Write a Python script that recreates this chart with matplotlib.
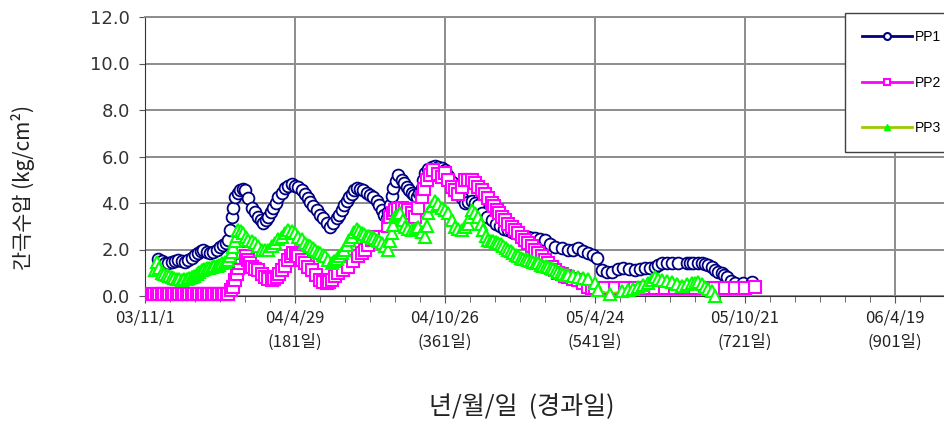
import matplotlib.pyplot as plt
from matplotlib.lines import Line2D
from matplotlib.ticker import MultipleLocator

plt.rcParams['font.family'] = ['Liberation Sans', 'Noto Sans CJK KR', 'DejaVu Sans']

# elapsed days since 03/11/1 and pore pressure (kg/cm2)
pp1_days = [16, 20, 24, 28, 32, 36, 40, 44, 48, 52, 56, 60, 64, 67, 70, 74, 78, 82,
            86, 90, 94, 97, 100, 102, 104, 106, 108, 111, 114, 117, 120, 124, 128,
            132, 136, 139, 142, 145, 148, 151, 154, 157, 160, 164, 168, 172, 176,
            180, 184, 188, 192, 195, 198, 202, 206, 210, 214, 218, 222, 226, 230,
            233, 236, 239, 242, 245, 248, 251, 254, 258, 262, 266, 270, 274, 278,
            281, 284, 287, 290, 292, 294, 296, 298, 301, 304, 308, 311, 314, 317,
            320, 323, 326, 329, 332, 334, 336, 340, 344, 348, 352, 356, 360, 364,
            368, 372, 376, 380, 384, 388, 392, 396, 400, 404, 410, 416, 421, 426,
            431, 436, 440, 444, 448, 452, 456, 460, 464, 468, 474, 480, 486, 492,
            500, 508, 514, 520, 526, 532, 537, 542, 548, 554, 560, 567, 574, 581,
            588, 594, 600, 606, 612, 616, 620, 626, 632, 640, 650, 654, 658, 663,
            668, 672, 676, 680, 684, 688, 692, 695, 698, 703, 708, 718, 728]
pp1_vals = [1.6, 1.5, 1.4, 1.4, 1.45, 1.5, 1.55, 1.5, 1.45, 1.55, 1.63, 1.75, 1.85,
            1.95, 2.0, 1.9, 1.85, 1.9, 2.0, 2.1, 2.2, 2.3, 2.4, 2.85, 3.4, 3.8, 4.25,
            4.45, 4.55, 4.6, 4.55, 4.2, 3.8, 3.6, 3.4, 3.25, 3.15, 3.25, 3.4, 3.6,
            3.8, 4.0, 4.25, 4.45, 4.65, 4.75, 4.8, 4.75, 4.7, 4.55, 4.4, 4.2, 4.05,
            3.85, 3.7, 3.5, 3.35, 3.15, 2.95, 3.15, 3.35, 3.5, 3.7, 3.9, 4.1, 4.25,
            4.4, 4.55, 4.65, 4.6, 4.55, 4.45, 4.35, 4.25, 4.1, 3.9, 3.7, 3.5, 3.35,
            3.6, 3.9, 4.3, 4.65, 4.95, 5.2, 5.0, 4.85, 4.7, 4.55, 4.45, 4.35, 4.25,
            4.45, 4.65, 5.0, 5.3, 5.45, 5.55, 5.6, 5.55, 5.5, 5.4, 5.15, 4.9, 4.65,
            4.4, 4.2, 4.0, 4.05, 4.1, 4.0, 3.9, 3.55, 3.4, 3.25, 3.1, 3.0, 2.9, 2.85,
            2.75, 2.7, 2.65, 2.6, 2.55, 2.55, 2.5, 2.5, 2.45, 2.4, 2.25, 2.1, 2.05,
            2.0, 2.0, 2.05, 1.95, 1.85, 1.75, 1.63, 1.1, 1.05, 1.05, 1.15, 1.2, 1.15,
            1.1, 1.15, 1.2, 1.2, 1.25, 1.35, 1.4, 1.4, 1.4, 1.4, 1.4, 1.4, 1.4, 1.4,
            1.4, 1.38, 1.35, 1.25, 1.1, 1.05, 1.0, 0.9, 0.8, 0.65, 0.55, 0.55, 0.6]

pp2_days = [8, 11, 14, 17, 20, 23, 26, 29, 32, 35, 38, 41, 44, 47, 50, 53, 56, 59,
            62, 65, 68, 71, 74, 77, 80, 83, 86, 89, 92, 95, 98, 100, 103, 106, 108,
            110, 112, 114, 116, 118, 121, 124, 126, 128, 132, 136, 140, 144, 148,
            152, 155, 158, 161, 164, 168, 172, 175, 178, 181, 184, 188, 192, 196,
            200, 205, 210, 214, 218, 221, 224, 228, 232, 238, 244, 250, 256, 260,
            264, 268, 272, 276, 282, 288, 291, 294, 297, 300, 304, 308, 312, 316,
            320, 324, 328, 332, 335, 338, 342, 346, 351, 356, 360, 364, 368, 372,
            376, 380, 384, 388, 392, 396, 400, 404, 408, 412, 416, 419, 422, 425,
            428, 432, 436, 440, 444, 448, 452, 456, 460, 464, 468, 472, 476, 480,
            484, 488, 492, 496, 500, 504, 508, 514, 520, 526, 532, 536, 540, 552,
            564, 576, 588, 600, 612, 624, 636, 648, 660, 672, 684, 696, 708, 720,
            732]
pp2_vals = [0.1, 0.1, 0.1, 0.1, 0.1, 0.1, 0.1, 0.1, 0.1, 0.1, 0.1, 0.1, 0.1, 0.1,
            0.1, 0.1, 0.1, 0.1, 0.1, 0.1, 0.1, 0.1, 0.1, 0.1, 0.1, 0.1, 0.1, 0.1,
            0.1, 0.1, 0.1, 0.1, 0.25, 0.4, 0.7, 0.95, 1.2, 1.4, 1.65, 1.85, 1.7,
            1.55, 1.4, 1.25, 1.15, 1.1, 0.95, 0.8, 0.75, 0.7, 0.75, 0.8, 0.95, 1.1,
            1.3, 1.55, 1.7, 1.85, 1.8, 1.7, 1.55, 1.4, 1.25, 1.1, 0.9, 0.7, 0.6,
            0.55, 0.6, 0.7, 0.85, 1.0, 1.1, 1.25, 1.5, 1.7, 1.85, 2.0, 2.2, 2.4,
            2.55, 2.55, 2.55, 3.0, 3.4, 3.55, 3.7, 3.75, 3.8, 3.75, 3.7, 3.55, 3.4,
            3.8, 4.25, 4.6, 5.0, 5.2, 5.4, 5.25, 5.1, 5.3, 5.0, 4.7, 4.55, 4.4, 4.7,
            5.0, 5.0, 5.0, 4.85, 4.7, 4.55, 4.4, 4.2, 4.0, 3.85, 3.7, 3.55, 3.4,
            3.25, 3.1, 2.95, 2.85, 2.7, 2.55, 2.4, 2.3, 2.15, 2.0, 1.85, 1.7, 1.55,
            1.4, 1.25, 1.1, 1.0, 0.95, 0.85, 0.8, 0.75, 0.7, 0.55, 0.4, 0.35, 0.35,
            0.35, 0.35, 0.35, 0.35, 0.35, 0.35, 0.35, 0.35, 0.35, 0.35, 0.35, 0.35,
            0.35, 0.35, 0.35, 0.4]

pp3_days = [12, 14, 17, 20, 23, 26, 29, 32, 35, 38, 41, 44, 47, 50, 53, 56, 59,
            62, 65, 68, 71, 74, 77, 80, 83, 86, 89, 92, 96, 100, 102, 104, 106,
            108, 110, 112, 115, 118, 121, 124, 128, 132, 136, 140, 144, 148, 152,
            156, 160, 164, 168, 172, 176, 180, 184, 188, 192, 195, 198, 201, 204,
            207, 210, 213, 216, 220, 224, 227, 230, 233, 236, 239, 242, 245, 248,
            251, 254, 257, 260, 263, 266, 269, 272, 275, 278, 281, 284, 288, 292,
            294, 296, 298, 300, 303, 306, 309, 312, 316, 320, 324, 328, 332, 336,
            338, 340, 344, 348, 352, 356, 360, 364, 368, 372, 376, 380, 384, 388,
            390, 392, 396, 400, 403, 406, 409, 412, 415, 418, 421, 424, 427, 430,
            433, 436, 439, 442, 445, 448, 451, 454, 457, 460, 463, 466, 469, 472,
            475, 478, 481, 484, 487, 490, 493, 496, 499, 502, 505, 508, 514, 520,
            526, 532, 540, 544, 558, 572, 580, 586, 592, 598, 604, 608, 612, 616,
            620, 626, 632, 638, 644, 650, 656, 660, 664, 668, 672, 676, 680, 684]
pp3_vals = [1.1, 1.45, 1.2, 1.0, 0.95, 0.9, 0.85, 0.8, 0.78, 0.75, 0.72, 0.7, 0.72,
            0.75, 0.78, 0.8, 0.88, 0.95, 1.02, 1.1, 1.15, 1.2, 1.22, 1.25, 1.28, 1.3,
            1.35, 1.4, 1.48, 1.55, 1.7, 1.9, 2.1, 2.35, 2.6, 2.85, 2.8, 2.7, 2.55,
            2.4, 2.35, 2.3, 2.15, 2.0, 2.0, 2.0, 2.15, 2.3, 2.45, 2.55, 2.7, 2.85,
            2.8, 2.7, 2.55, 2.45, 2.3, 2.2, 2.15, 2.05, 2.0, 1.9, 1.85, 1.75, 1.7,
            1.55, 1.4, 1.5, 1.6, 1.7, 1.85, 2.0, 2.2, 2.4, 2.55, 2.75, 2.9, 2.8, 2.7,
            2.65, 2.6, 2.58, 2.55, 2.5, 2.4, 2.35, 2.3, 2.15, 2.0, 2.35, 2.7, 3.05,
            3.4, 3.5, 3.55, 3.25, 2.95, 2.9, 2.85, 2.9, 2.95, 2.75, 2.55, 3.0, 3.55,
            3.85, 4.1, 3.95, 3.8, 3.7, 3.55, 3.25, 2.95, 2.9, 2.85, 2.95, 3.1, 3.4,
            3.7, 3.55, 3.4, 3.1, 2.85, 2.6, 2.4, 2.38, 2.35, 2.32, 2.3, 2.22, 2.15,
            2.08, 2.0, 1.92, 1.85, 1.78, 1.7, 1.65, 1.6, 1.58, 1.55, 1.5, 1.45, 1.42,
            1.4, 1.35, 1.3, 1.28, 1.25, 1.2, 1.15, 1.1, 1.05, 1.0, 0.95, 0.92, 0.9,
            0.85, 0.8, 0.78, 0.75, 0.55, 0.25, 0.1, 0.2, 0.25, 0.32, 0.4, 0.48, 0.55,
            0.7, 0.8, 0.75, 0.7, 0.65, 0.6, 0.52, 0.45, 0.5, 0.55, 0.58, 0.6, 0.5,
            0.4, 0.3, 0.2, 0.0]

tick_days = [0, 180, 360, 540, 720, 900]
tick_labels = ['03/11/1', '04/4/29\n(181일)', '04/10/26\n(361일)',
               '05/4/24\n(541일)', '05/10/21\n(721일)', '06/4/19\n(901일)']
y_ticks = [0, 2, 4, 6, 8, 10, 12]

fig = plt.figure(figsize=(9.44, 4.21), dpi=100)
ax = fig.add_axes([145 / 944, 1 - 296 / 421, 800 / 944, 279 / 421])

ax.plot(pp1_days, pp1_vals, color='#000080', lw=1.3, marker='o', ms=8.5,
        mfc='white', mec='#000080', mew=1.3, clip_on=False, zorder=3)
ax.plot(pp2_days, pp2_vals, color='#FF00FF', lw=1.3, marker='s', ms=8,
        mfc='white', mec='#FF00FF', mew=1.5, clip_on=False, zorder=4)
ax.plot(pp3_days, pp3_vals, color='#99CC00', lw=1.3, marker='^', ms=8,
        mfc='white', mec='#00FF00', mew=1.5, clip_on=False, zorder=5)

ax.set_xlim(0, 960)
ax.set_ylim(0, 12)
ax.set_xticks(tick_days)
ax.set_xticklabels(tick_labels, fontsize=12, color='#222222', linespacing=1.5,
                   family=['Noto Sans CJK KR', 'DejaVu Sans'])
ax.xaxis.set_minor_locator(MultipleLocator(30))
ax.set_yticks(y_ticks)
ax.set_yticklabels([f'{v:.1f}' for v in y_ticks], fontsize=13, color='#333333',
                   family='DejaVu Sans')
ax.tick_params(axis='x', which='major', length=5, color='#555555', pad=5)
ax.tick_params(axis='x', which='minor', length=4, color='#555555')
ax.tick_params(axis='y', length=4, color='#555555', pad=7)

ax.grid(True, which='major', color='#8c8c8c', lw=1.4)
ax.set_axisbelow(True)
for side in ['top', 'right']:
    ax.spines[side].set_color('#8c8c8c')
    ax.spines[side].set_linewidth(1.4)
ax.spines['left'].set_color('#333333')
ax.spines['bottom'].set_color('#333333')

fig.text(23 / 944, 1 - 188 / 421, '간극수압 (kg/cm²)', rotation=90, ha='center',
         va='center', fontsize=15, color='#222222',
         family=['Noto Sans CJK KR', 'DejaVu Sans'])
fig.text(522 / 944, 1 - 406 / 421, '년/월/일  (경과일)', ha='center', va='center',
         fontsize=18, color='#222222', family=['Noto Sans CJK KR', 'DejaVu Sans'])

handles = [
    Line2D([], [], color='#000080', lw=2, marker='o', ms=5, mfc='white',
           mec='#000080', mew=1.5),
    Line2D([], [], color='#FF00FF', lw=2, marker='s', ms=5, mfc='white',
           mec='#FF00FF', mew=1.5),
    Line2D([], [], color='#99CC00', lw=2, marker='^', ms=5, mfc='#00FF00',
           mec='#00FF00', mew=1),
]
leg = fig.legend(handles, ['PP1', 'PP2', 'PP3'], loc='upper left',
                 bbox_to_anchor=(845 / 944, 1 - 13 / 421), borderaxespad=0,
                 fontsize=10, handlelength=3.6, handletextpad=0.2,
                 labelspacing=2.25, borderpad=1.25, fancybox=False, framealpha=1)
leg.get_frame().set_edgecolor('#404040')
leg.get_frame().set_linewidth(1.0)

fig.savefig('out.png', dpi=100)
